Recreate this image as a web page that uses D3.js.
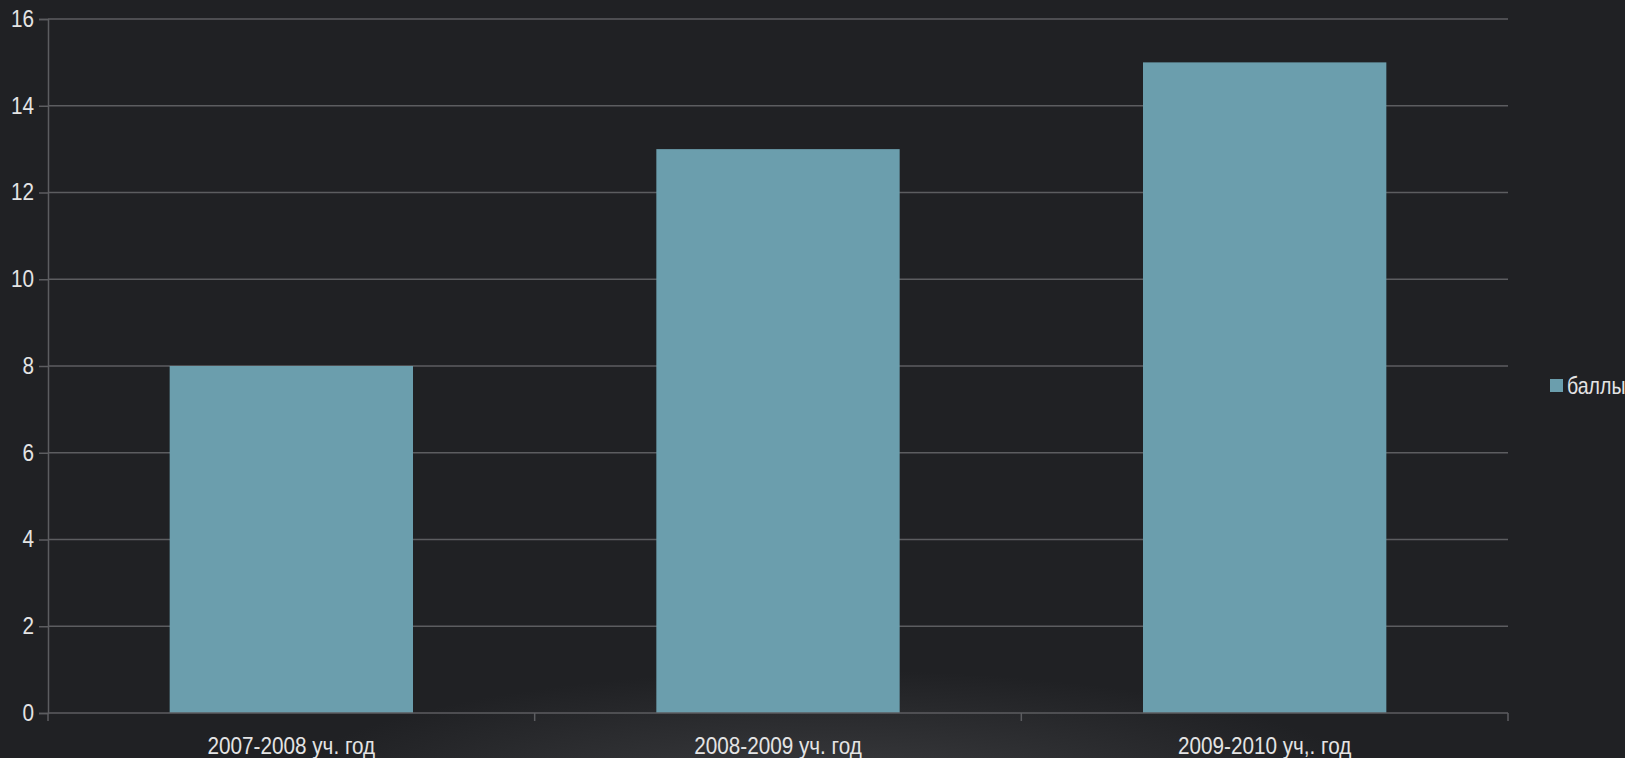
<!DOCTYPE html>
<html>
<head>
<meta charset="utf-8">
<script src="https://cdn.jsdelivr.net/npm/d3@7"></script>
<style>
  html, body { margin: 0; padding: 0; background: #202124; }
  svg { display: block; }
  text { font-family: "Liberation Sans", Arial, sans-serif; fill: #e4e4e4; }
</style>
</head>
<body>
<svg id="chart" width="1625" height="758"></svg>
<script>
const categories = ["2007-2008 уч. год", "2008-2009 уч. год", "2009-2010 уч,. год"];
const values = [8, 13, 15];
const yTicks = [0, 2, 4, 6, 8, 10, 12, 14, 16];
const seriesName = "баллы";

const W = 1625, H = 758;
const margin = { left: 48, right: 117, top: 19, bottom: 45 };
const fontSize = 23;
const squeeze = 0.9;

const svg = d3.select("#chart");

// faint glow at the bottom centre
const defs = svg.append("defs");
const grad = defs.append("radialGradient")
  .attr("id", "glow");
grad.append("stop").attr("offset", "0").attr("stop-color", "#3d3e41");
grad.append("stop").attr("offset", "1").attr("stop-color", "#202124");

svg.append("rect").attr("width", W).attr("height", H).attr("fill", "#202124");
svg.append("ellipse")
  .attr("cx", 830).attr("cy", 800)
  .attr("rx", 560).attr("ry", 130)
  .attr("fill", "url(#glow)");

const x = d3.scaleBand()
  .domain(categories)
  .range([margin.left, W - margin.right])
  .paddingInner(0.5)
  .paddingOuter(0.25);

const y = d3.scaleLinear()
  .domain([0, 16])
  .range([H - margin.bottom, margin.top]);

const gridColor = "#5c5d60";

// grid lines
svg.append("g")
  .selectAll("line")
  .data(yTicks.filter(d => d > 0))
  .join("line")
  .attr("x1", margin.left)
  .attr("x2", W - margin.right)
  .attr("y1", d => y(d))
  .attr("y2", d => y(d))
  .attr("stroke", gridColor)
  .attr("stroke-width", 1.5);

// bars
svg.append("g")
  .selectAll("rect")
  .data(values)
  .join("rect")
  .attr("x", (d, i) => x(categories[i]))
  .attr("y", d => y(d))
  .attr("width", x.bandwidth())
  .attr("height", d => y(0) - y(d))
  .attr("fill", "#6b9ead");

// y axis
const yAxis = svg.append("g")
  .attr("transform", `translate(${margin.left},0)`)
  .call(d3.axisLeft(y).tickValues(yTicks).tickSize(9).tickPadding(5));
yAxis.select(".domain").attr("stroke", gridColor).attr("stroke-width", 1.5);
yAxis.selectAll(".tick line").attr("stroke", gridColor).attr("stroke-width", 1.5);
yAxis.selectAll(".tick text")
  .attr("fill", "#e4e4e4")
  .attr("x", null)
  .attr("transform", `translate(-14,0) scale(${squeeze},1)`)
  .style("font-size", fontSize + "px")
  .style("font-family", "'Liberation Sans', sans-serif");

// x axis line and boundary ticks
const xg = svg.append("g");
xg.append("line")
  .attr("x1", margin.left).attr("x2", W - margin.right)
  .attr("y1", y(0)).attr("y2", y(0))
  .attr("stroke", gridColor).attr("stroke-width", 1.5);
xg.selectAll("line.tk")
  .data(d3.range(categories.length + 1))
  .join("line")
  .attr("class", "tk")
  .attr("x1", i => margin.left + i * x.step())
  .attr("x2", i => margin.left + i * x.step())
  .attr("y1", y(0)).attr("y2", y(0) + 8)
  .attr("stroke", gridColor).attr("stroke-width", 1.5);
xg.selectAll("text")
  .data(categories)
  .join("text")
  .attr("transform", d => `translate(${x(d) + x.bandwidth() / 2},${y(0) + 41}) scale(${squeeze},1)`)
  .attr("text-anchor", "middle")
  .style("font-size", fontSize + "px")
  .text(d => d);

// legend
const lg = svg.append("g").attr("transform", `translate(1550,${y(8) + 20})`);
lg.append("rect").attr("x", 0).attr("y", -7).attr("width", 13).attr("height", 13).attr("fill", "#6b9ead");
lg.append("text")
  .attr("transform", `translate(17,0) scale(0.85,1)`)
  .attr("dy", "0.35em")
  .style("font-size", fontSize + "px").text(seriesName);
</script>
</body>
</html>
